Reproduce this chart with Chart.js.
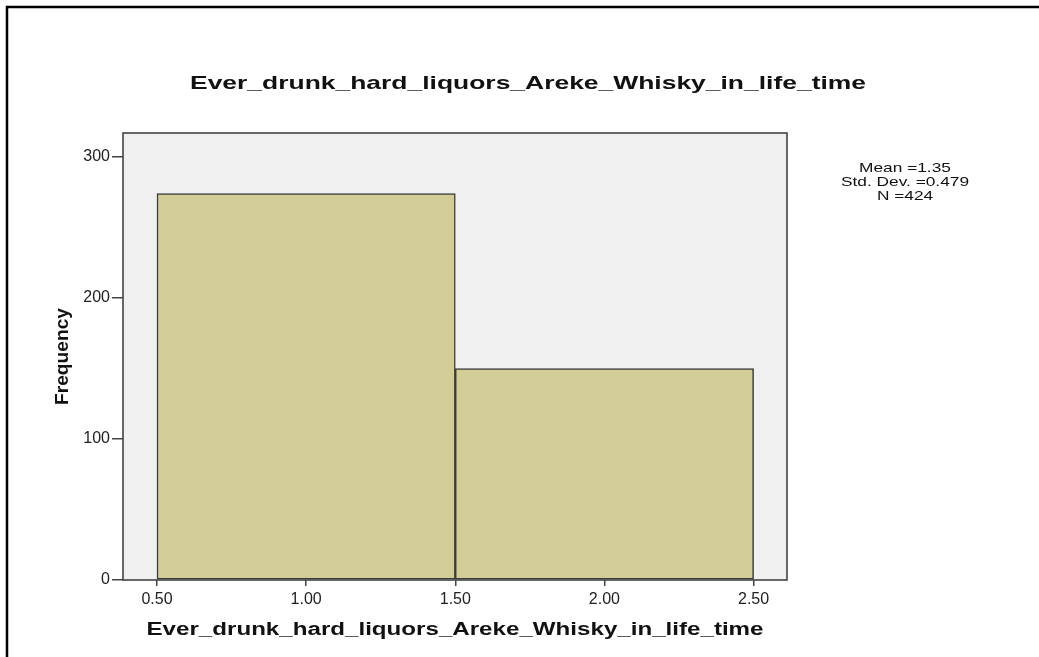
<!DOCTYPE html>
<html>
<head>
<meta charset="utf-8">
<script src="https://cdn.jsdelivr.net/npm/chart.js@4/dist/chart.umd.min.js"></script>
<style>
  html, body { margin: 0; padding: 0; background: #ffffff; }
  #c { display: block; }
</style>
</head>
<body>
<canvas id="c" width="1039" height="657"></canvas>
<script>
// ---- data ----
const chartTitle = "Ever_drunk_hard_liquors_Areke_Whisky_in_life_time";
const xAxisTitle = "Ever_drunk_hard_liquors_Areke_Whisky_in_life_time";
const yAxisTitle = "Frequency";
const binCenters = [1, 2];
const binEdges = [0.5, 1.5, 2.5];
const frequencies = [274, 150];
const xTickValues = [0.5, 1.0, 1.5, 2.0, 2.5];
const yTickValues = [0, 100, 200, 300];
const xRange = [0.386, 2.612];
const yRange = [0, 317];
const statsLines = ["Mean =1.35", "Std. Dev. =0.479", "N =424"];

const FONT = "'Liberation Sans', Arial, sans-serif";

function drawStretched(ctx, text, x, y, font, opts) {
  ctx.save();
  ctx.font = font;
  ctx.fillStyle = opts.color || '#000';
  ctx.textBaseline = 'alphabetic';
  ctx.textAlign = 'center';
  const w = ctx.measureText(text).width;
  const sx = opts.width ? opts.width / w : (opts.sx || 1);
  ctx.translate(x, y);
  if (opts.rotate) ctx.rotate(opts.rotate);
  ctx.scale(sx, 1);
  ctx.fillText(text, 0, 0);
  ctx.restore();
}

const decorPlugin = {
  id: 'decor',
  beforeDraw(chart) {
    const { ctx, chartArea: a } = chart;
    ctx.save();
    ctx.fillStyle = '#ffffff';
    ctx.fillRect(0, 0, chart.width, chart.height);
    ctx.fillStyle = '#f0f0f0';
    ctx.fillRect(a.left, a.top, a.right - a.left, a.bottom - a.top);
    ctx.restore();
  },
  afterDatasetsDraw(chart) {
    const { ctx, chartArea: a } = chart;
    ctx.save();
    ctx.strokeStyle = '#444444';
    ctx.lineWidth = 1.6;
    ctx.strokeRect(a.left, a.top, a.right - a.left, a.bottom - a.top);
    ctx.restore();
  },
  afterDraw(chart) {
    const { ctx } = chart;
    // outer frame (top and left edges)
    ctx.save();
    ctx.strokeStyle = '#000';
    ctx.lineWidth = 2.5;
    ctx.beginPath();
    ctx.moveTo(7, 657);
    ctx.lineTo(7, 7);
    ctx.lineTo(1039, 7);
    ctx.stroke();
    ctx.restore();

    const a = chart.chartArea;
    drawStretched(ctx, chartTitle, 528, 89, `bold 19px ${FONT}`, { width: 676, color: '#111' });
    drawStretched(ctx, xAxisTitle, (a.left + a.right) / 2, 635, `bold 18px ${FONT}`, { width: 617, color: '#111' });
    drawStretched(ctx, yAxisTitle, 68, (a.top + a.bottom) / 2, `bold 18px ${FONT}`, { width: 97, color: '#111', rotate: -Math.PI / 2 });
    const baselines = [172, 186, 199.5];
    statsLines.forEach((t, i) => {
      drawStretched(ctx, t, 905, baselines[i], `13px ${FONT}`, { sx: 1.33, color: '#111' });
    });
  }
};

new Chart(document.getElementById('c'), {
  type: 'bar',
  data: {
    datasets: [{
      data: binCenters.map((x, i) => ({ x: x, y: frequencies[i] })),
      xAxisID: 'xb',
      yAxisID: 'y',
      backgroundColor: '#d2cd97',
      borderColor: '#3a3a3a',
      borderWidth: 1.5,
      borderSkipped: false,
      barPercentage: 1,
      categoryPercentage: 1
    }]
  },
  options: {
    responsive: false,
    animation: false,
    devicePixelRatio: 1,
    layout: { padding: { top: 133, left: 0, right: 252, bottom: 0 } },
    plugins: {
      legend: { display: false },
      title: { display: false },
      tooltip: { enabled: false }
    },
    scales: {
      xb: {
        type: 'linear',
        axis: 'x',
        position: 'bottom',
        display: false,
        offset: false,
        min: xRange[0],
        max: xRange[1],
        grid: { offset: false },
        afterBuildTicks(scale) { scale.ticks = binEdges.map(v => ({ value: v })); }
      },
      x: {
        type: 'linear',
        position: 'bottom',
        offset: false,
        min: xRange[0],
        max: xRange[1],
        border: { display: false },
        grid: {
          offset: false,
          drawOnChartArea: false,
          drawTicks: true,
          tickLength: 6,
          color: '#444444',
          lineWidth: 1.5
        },
        ticks: {
          padding: 4,
          color: '#222',
          font: { family: FONT, size: 16 },
          maxRotation: 0,
          autoSkip: false,
          callback: v => Number(v).toFixed(2)
        },
        afterBuildTicks(scale) { scale.ticks = xTickValues.map(v => ({ value: v })); },
        afterFit(scale) { scale.height = 77; }
      },
      y: {
        type: 'linear',
        position: 'left',
        min: yRange[0],
        max: yRange[1],
        border: { display: false },
        grid: {
          drawOnChartArea: false,
          drawTicks: true,
          tickLength: 11,
          color: '#444444',
          lineWidth: 1.5
        },
        ticks: {
          padding: 2,
          color: '#222',
          font: { family: FONT, size: 16 },
          autoSkip: false
        },
        afterBuildTicks(scale) { scale.ticks = yTickValues.map(v => ({ value: v })); },
        afterFit(scale) { scale.width = 123; }
      }
    }
  },
  plugins: [decorPlugin]
});
</script>
</body>
</html>
